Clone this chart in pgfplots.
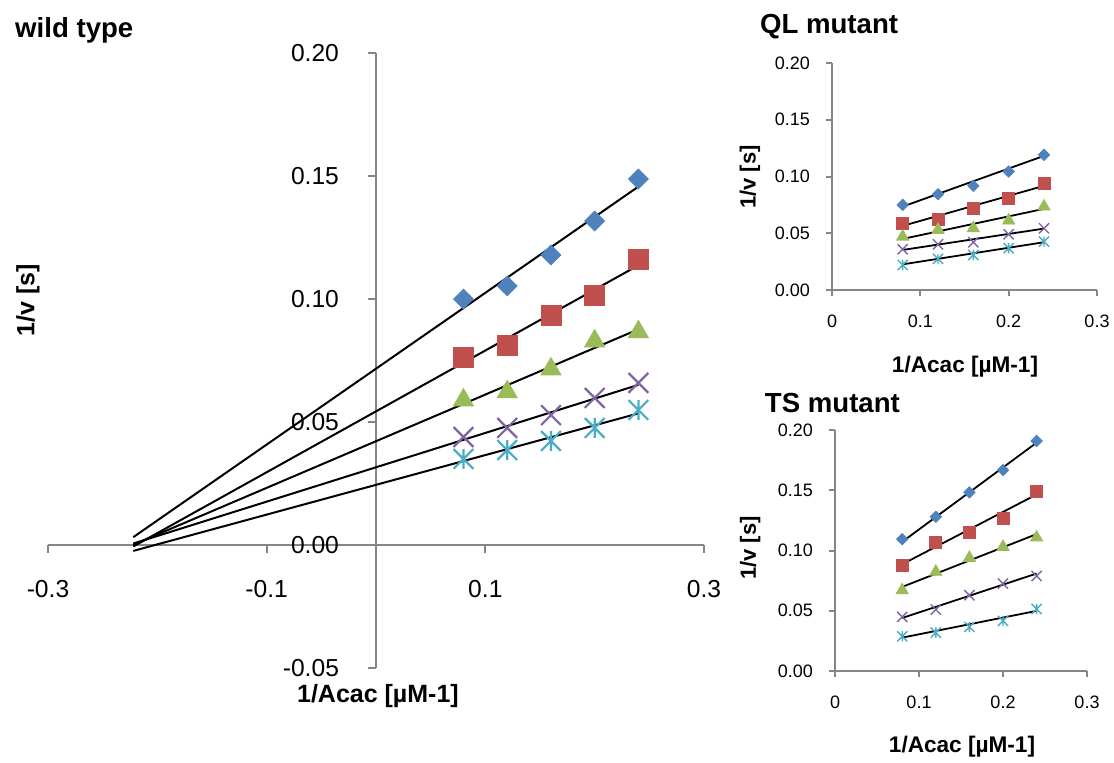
\documentclass[border=0pt]{standalone}
\usepackage{fontspec}
\setmainfont{Liberation Sans}
\usepackage{pgfplots}
\pgfplotsset{compat=1.18}

\definecolor{cblue}{HTML}{4F81BD}
\definecolor{cred}{HTML}{C0504D}
\definecolor{cgreen}{HTML}{9BBB59}
\definecolor{cpurple}{HTML}{8064A2}
\definecolor{ccyan}{HTML}{4BACC6}
\definecolor{axgray}{HTML}{868686}

% Excel-style star: an X with a vertical bar through it
\pgfdeclareplotmark{xstar}{%
  \pgfpathmoveto{\pgfqpoint{-.7071\pgfplotmarksize}{-.7071\pgfplotmarksize}}%
  \pgfpathlineto{\pgfqpoint{.7071\pgfplotmarksize}{.7071\pgfplotmarksize}}%
  \pgfpathmoveto{\pgfqpoint{-.7071\pgfplotmarksize}{.7071\pgfplotmarksize}}%
  \pgfpathlineto{\pgfqpoint{.7071\pgfplotmarksize}{-.7071\pgfplotmarksize}}%
  \pgfpathmoveto{\pgfqpoint{0pt}{-.7071\pgfplotmarksize}}%
  \pgfpathlineto{\pgfqpoint{0pt}{.7071\pgfplotmarksize}}%
  \pgfusepathqstroke}

\pgfplotsset{
  noarrows/.style={
    axis line style={-, draw=axgray, line width=1pt},
    every inner x axis line/.append style={-},
    every inner y axis line/.append style={-},
    every outer x axis line/.append style={-},
    every outer y axis line/.append style={-},
    tick align=outside},
  base/.style={scale only axis, clip=false,
    tick style={draw=axgray, line width=1pt},
    major tick length=3pt},
  sblue/.style={only marks, color=cblue, mark=square*, mark options={rotate=45}},
  sred/.style={only marks, color=cred, mark=square*},
  sgreen/.style={only marks, color=cgreen, mark=triangle*},
  spurple/.style={only marks, color=cpurple, mark=x},
  scyan/.style={only marks, color=ccyan, mark=xstar},
  trend/.style={black, line width=1pt, mark=none},
}
\newcommand{\lblfont}{\bfseries\fontsize{12.5}{14}\selectfont}
\newcommand{\ttlfont}{\bfseries\fontsize{13.8}{16}\selectfont}

\begin{document}
\begin{tikzpicture}
\useasboundingbox (0,0) rectangle (557pt,-381pt);

% ---------------- wild type ----------------
\begin{axis}[base,
  at={(24pt,-334pt)}, anchor=south west,
  width=328pt, height=307.5pt,
  xmin=-0.3, xmax=0.3, ymin=-0.05, ymax=0.2,
  axis lines=middle, noarrows, major tick length=4pt,
  hide obscured x ticks=false, hide obscured y ticks=false,
  xtick={-0.3,-0.1,0.1,0.3}, xticklabels={-0.3,-0.1,0.1,0.3},
  ytick={-0.05,0,0.05,0.1,0.15,0.2},
  yticklabels={-0.05,0.00,0.05,0.10,0.15,0.20},
  ticklabel style={font=\fontsize{12.3}{14}\selectfont},
  xticklabel style={yshift=-10pt},
  yticklabel style={xshift=-11pt},
  mark size=3.5pt,
]
\addplot[sblue] coordinates {(0.08,0.1000) (0.12,0.1053) (0.16,0.1179) (0.20,0.1317) (0.24,0.1488)};
\addplot[sred, mark size=5pt] coordinates {(0.08,0.0764) (0.12,0.0813) (0.16,0.0935) (0.20,0.1016) (0.24,0.1159)};
\addplot[sgreen, mark size=5.8pt] coordinates {(0.08,0.0589) (0.12,0.0622) (0.16,0.0715) (0.20,0.0829) (0.24,0.0866)};
\addplot[spurple, mark size=7pt, mark options={line width=1.1pt}] coordinates {(0.08,0.0439) (0.12,0.0476) (0.16,0.0528) (0.20,0.0598) (0.24,0.0659)};
\addplot[scyan, mark size=7pt, mark options={line width=1.1pt}] coordinates {(0.08,0.0350) (0.12,0.0386) (0.16,0.0423) (0.20,0.0476) (0.24,0.0549)};
\addplot[trend] coordinates {(-0.222,0.0032) (0.24,0.1457)};
\addplot[trend] coordinates {(-0.222,-0.0006) (0.24,0.1137)};
\addplot[trend] coordinates {(-0.222,0.0001) (0.24,0.0877)};
\addplot[trend] coordinates {(-0.222,0.0006) (0.24,0.0651)};
\addplot[trend] coordinates {(-0.222,-0.0024) (0.24,0.0535)};
\node[anchor=west, font=\ttlfont] at (rel axis cs:-0.0607,1.037) {wild type};
\node[rotate=90, font=\lblfont] at (rel axis cs:-0.0305,0.598) {1/v [s]};
\node[font=\lblfont] at (rel axis cs:0.503,-0.046) {1/Acac [µM-1]};
\end{axis}

% ---------------- QL mutant ----------------
\begin{axis}[base,
  at={(416pt,-145pt)}, anchor=south west,
  width=132.5pt, height=113.5pt,
  xmin=0, xmax=0.3, ymin=0, ymax=0.2,
  axis lines=left, noarrows,
  xtick={0,0.1,0.2,0.3}, xticklabels={0,0.1,0.2,0.3},
  ytick={0,0.05,0.1,0.15,0.2}, yticklabels={0.00,0.05,0.10,0.15,0.20},
  ticklabel style={font=\fontsize{9}{11}\selectfont},
  xticklabel style={yshift=-6pt},
  yticklabel style={xshift=-4.5pt},
  mark size=2pt,
]
\addplot[sblue] coordinates {(0.08,0.0750) (0.12,0.0844) (0.16,0.0918) (0.20,0.1044) (0.24,0.1191)};
\addplot[sred, mark size=3pt] coordinates {(0.08,0.0588) (0.12,0.0624) (0.16,0.0715) (0.20,0.0809) (0.24,0.0941)};
\addplot[sgreen, mark size=3.5pt] coordinates {(0.08,0.0470) (0.12,0.0530) (0.16,0.0544) (0.20,0.0612) (0.24,0.0735)};
\addplot[spurple, mark size=3.6pt, mark options={line width=0.7pt}] coordinates {(0.08,0.0359) (0.12,0.0403) (0.16,0.0421) (0.20,0.0491) (0.24,0.0544)};
\addplot[scyan, mark size=3.6pt, mark options={line width=0.7pt}] coordinates {(0.08,0.0221) (0.12,0.0274) (0.16,0.0309) (0.20,0.0368) (0.24,0.0426)};
\addplot[trend, line width=0.9pt] coordinates {(0.08,0.0735) (0.24,0.1182)};
\addplot[trend, line width=0.9pt] coordinates {(0.08,0.0565) (0.24,0.0918)};
\addplot[trend, line width=0.9pt] coordinates {(0.08,0.0450) (0.24,0.0715)};
\addplot[trend, line width=0.9pt] coordinates {(0.08,0.0353) (0.24,0.0541)};
\addplot[trend, line width=0.9pt] coordinates {(0.08,0.0226) (0.24,0.0421)};
\node[anchor=west, font=\ttlfont] at (rel axis cs:-0.298,1.159) {QL mutant};
\node[rotate=90, font=\bfseries\fontsize{11}{13}\selectfont] at (rel axis cs:-0.31,0.498) {1/v [s]};
\node[font=\bfseries\fontsize{11.3}{13}\selectfont] at (rel axis cs:0.502,-0.339) {1/Acac [µM-1]};
\end{axis}

% ---------------- TS mutant ----------------
\begin{axis}[base,
  at={(417.5pt,-335.5pt)}, anchor=south west,
  width=126pt, height=120.5pt,
  xmin=0, xmax=0.3, ymin=0, ymax=0.2,
  axis lines=left, noarrows,
  xtick={0,0.1,0.2,0.3}, xticklabels={0,0.1,0.2,0.3},
  ytick={0,0.05,0.1,0.15,0.2}, yticklabels={0.00,0.05,0.10,0.15,0.20},
  ticklabel style={font=\fontsize{9}{11}\selectfont},
  xticklabel style={yshift=-6pt},
  yticklabel style={xshift=-4.5pt},
  mark size=2pt,
]
\addplot[sblue] coordinates {(0.08,0.1094) (0.12,0.1280) (0.16,0.1482) (0.20,0.1668) (0.24,0.1909)};
\addplot[sred, mark size=3pt] coordinates {(0.08,0.0875) (0.12,0.1066) (0.16,0.1147) (0.20,0.1269) (0.24,0.1493)};
\addplot[sgreen, mark size=3.5pt] coordinates {(0.08,0.0670) (0.12,0.0823) (0.16,0.0939) (0.20,0.1030) (0.24,0.1108)};
\addplot[spurple, mark size=3.6pt, mark options={line width=0.7pt}] coordinates {(0.08,0.0449) (0.12,0.0510) (0.16,0.0629) (0.20,0.0726) (0.24,0.0789)};
\addplot[scyan, mark size=3.6pt, mark options={line width=0.7pt}] coordinates {(0.08,0.0288) (0.12,0.0319) (0.16,0.0366) (0.20,0.0416) (0.24,0.0515)};
\addplot[trend, line width=0.9pt] coordinates {(0.08,0.1072) (0.24,0.1895)};
\addplot[trend, line width=0.9pt] coordinates {(0.08,0.0886) (0.24,0.1465)};
\addplot[trend, line width=0.9pt] coordinates {(0.08,0.0698) (0.24,0.1136)};
\addplot[trend, line width=0.9pt] coordinates {(0.08,0.0440) (0.24,0.0809)};
\addplot[trend, line width=0.9pt] coordinates {(0.08,0.0277) (0.24,0.0499)};
\node[anchor=west, font=\ttlfont] at (rel axis cs:-0.306,1.112) {TS mutant};
\node[rotate=90, font=\bfseries\fontsize{11}{13}\selectfont] at (rel axis cs:-0.337,0.51) {1/v [s]};
\node[font=\bfseries\fontsize{11.3}{13}\selectfont] at (rel axis cs:0.504,-0.315) {1/Acac [µM-1]};
\end{axis}
\end{tikzpicture}
\end{document}
